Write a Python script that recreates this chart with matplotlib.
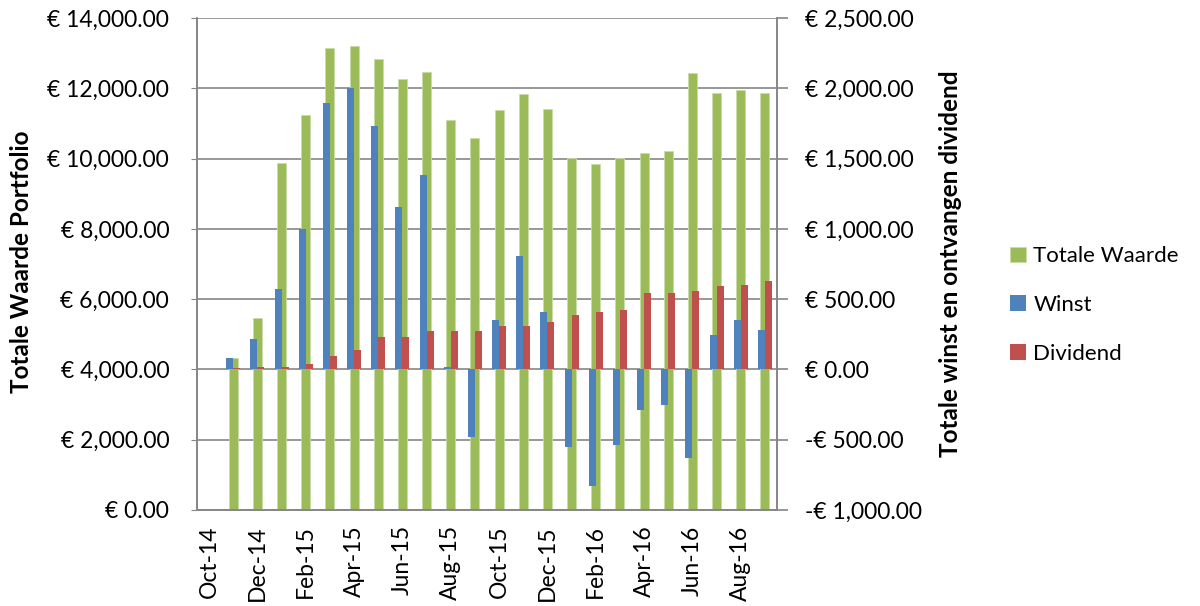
import matplotlib
matplotlib.use('Agg')
import matplotlib.pyplot as plt
import numpy as np
from matplotlib.ticker import FuncFormatter, MultipleLocator

plt.rcParams['font.family'] = ['Lato', 'DejaVu Sans']

# maanden (Oct-14 heeft geen waarden)
months = ['Oct-14', 'Nov-14', 'Dec-14', 'Jan-15', 'Feb-15', 'Mar-15', 'Apr-15', 'May-15',
          'Jun-15', 'Jul-15', 'Aug-15', 'Sep-15', 'Oct-15', 'Nov-15', 'Dec-15', 'Jan-16',
          'Feb-16', 'Mar-16', 'Apr-16', 'May-16', 'Jun-16', 'Jul-16', 'Aug-16', 'Sep-16']

totale_waarde = [0, 4320, 5470, 9880, 11250, 13140, 13210, 12840, 12270, 12460, 11090, 10580,
                 11390, 11840, 11420, 10010, 9850, 10030, 10160, 10210, 12430, 11870, 11960, 11860]
winst = [0, 80, 214, 574, 997, 1895, 2000, 1733, 1156, 1382, 16, -481,
         352, 808, 409, -555, -827, -541, -286, -250, -629, 244, 352, 277]
dividend = [0, 8, 14, 14, 38, 96, 137, 231, 233, 272, 272, 272,
            310, 310, 335, 385, 412, 423, 544, 544, 558, 591, 599, 632]

green = '#9BBB59'
blue = '#4F81BD'
red = '#C0504D'
grid_col = '#868686'


def euro(v, pos):
    s = f'€ {abs(v):,.2f}'
    return '-' + s if v < 0 else s


fig = plt.figure(figsize=(12, 6.06), dpi=100)
ax = fig.add_axes([197 / 1200, 96 / 606, 580 / 1200, 492 / 606])
ax2 = ax.twinx()

x = np.arange(len(months))
ax.bar(x, totale_waarde, width=0.37, color=green, edgecolor='#c9dba6', linewidth=0.6,
       label='Totale Waarde', zorder=2)
ax2.bar(x - 0.145, winst, width=0.29, color=blue, label='Winst', zorder=3)
ax2.bar(x + 0.145, dividend, width=0.29, color=red, label='Dividend', zorder=3)

ax.set_xlim(-0.5, len(months) - 0.5)
ax.set_ylim(0, 14000)
ax2.set_ylim(-1000, 2500)
ax.yaxis.set_major_locator(MultipleLocator(2000))
ax2.yaxis.set_major_locator(MultipleLocator(500))
ax.yaxis.set_major_formatter(FuncFormatter(euro))
ax2.yaxis.set_major_formatter(FuncFormatter(euro))

ax.set_xticks(x[::2])
ax.set_xticklabels(months[::2], rotation=90, fontsize=16.5)
ax.tick_params(axis='x', length=0, pad=11)
ax.tick_params(axis='y', labelsize=16.5, length=4, color=grid_col, pad=16)
ax2.tick_params(axis='y', labelsize=16.5, length=8, color=grid_col, width=1.2, pad=12)

ax.grid(axis='y', color=grid_col, linewidth=1.2)
ax.set_axisbelow(True)
for a in (ax, ax2):
    for sp in a.spines.values():
        sp.set_color(grid_col)
        sp.set_linewidth(1.2)
    a.spines['top'].set_visible(False)

fig.text(22 / 1200, 1 - 262 / 606, 'Totale Waarde Portfolio', rotation=90,
         ha='center', va='center', fontsize=17.5, fontweight='bold')
fig.text(950 / 1200, 1 - 264 / 606, 'Totale winst en ontvangen dividend', rotation=90,
         ha='center', va='center', fontsize=17.5, fontweight='bold')

h1, l1 = ax.get_legend_handles_labels()
h2, l2 = ax2.get_legend_handles_labels()
fig.legend(h1 + h2, l1 + l2, loc='center left', bbox_to_anchor=(1010 / 1200, 1 - 305 / 606),
           frameon=False, fontsize=16, handlelength=0.7, handleheight=0.7,
           handletextpad=0.35, labelspacing=1.3, borderpad=0, borderaxespad=0)

fig.savefig('out.png', dpi=100)
